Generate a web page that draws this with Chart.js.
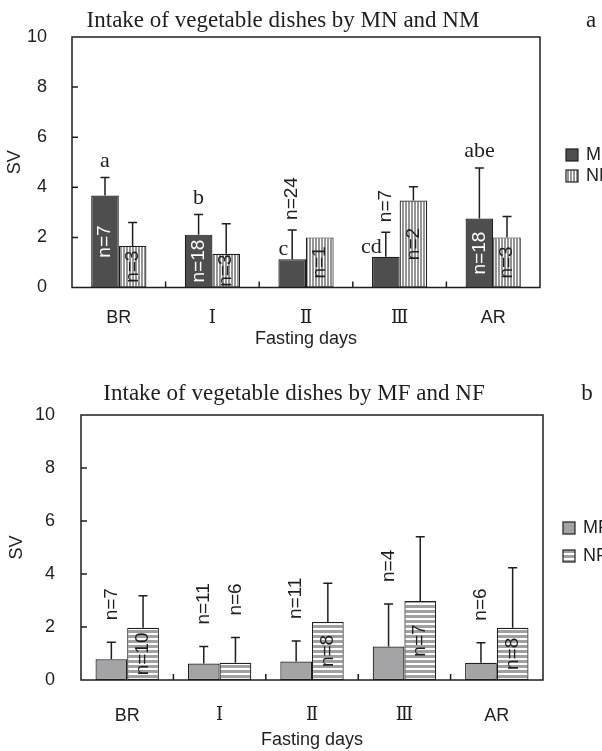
<!DOCTYPE html>
<html>
<head>
<meta charset="utf-8">
<script src="https://cdn.jsdelivr.net/npm/chart.js@4.4.1/dist/chart.umd.min.js"></script>
<style>
  html, body { margin: 0; padding: 0; background: #fff; }
  #wrap { position: relative; width: 602px; height: 751px; overflow: hidden; }
  canvas { position: absolute; left: 0; }
  #chartA { top: 0; }
  #chartB { top: 375px; }
</style>
</head>
<body>
<div id="wrap">
  <canvas id="chartA" width="602" height="375"></canvas>
  <canvas id="chartB" width="602" height="376"></canvas>
</div>
<script>
const days = ["BR", "Ⅰ", "Ⅱ", "Ⅲ", "AR"];
const yTicks = [0, 2, 4, 6, 8, 10];

// panel a : MN / NM
const mnMean = [3.67, 2.11, 1.13, 1.23, 2.75];
const mnSd   = [0.72, 0.80, 1.17, 0.98, 2.02];
const mnN    = [7, 18, 24, 7, 18];
const mnSig  = ["a", "b", "c", "cd", "abe"];
const nmMean = [1.66, 1.35, 2.00, 3.47, 2.00];
const nmSd   = [0.93, 1.19, 0, 0.55, 0.83];
const nmN    = [3, 3, 1, 2, 3];

// panel b : MF / NF
const mfMean = [0.78, 0.62, 0.70, 1.26, 0.65];
const mfSd   = [0.64, 0.64, 0.77, 1.61, 0.76];
const mfN    = [7, 11, 11, 4, 6];
const nfMean = [1.97, 0.65, 2.19, 2.98, 1.97];
const nfSd   = [1.21, 0.95, 1.46, 2.43, 2.27];
const nfN    = [10, 6, 8, 7, 8];

const INK = "#1e1e1e";
const SANS = '"Liberation Sans", "Noto Sans CJK JP", Arial, sans-serif';
const ROMAN = '"DejaVu Serif", "Noto Sans CJK JP", serif';
const SERIF = '"Liberation Serif", "DejaVu Serif", serif';

function stripes(ctx, vertical, period, band, color) {
    const c = document.createElement("canvas");
    c.width = vertical ? period : 8;
    c.height = vertical ? 8 : period;
    const g = c.getContext("2d");
    g.fillStyle = "#fff";
    g.fillRect(0, 0, c.width, c.height);
    g.fillStyle = color;
    if (vertical) g.fillRect(0, 0, band, c.height);
    else g.fillRect(0, 0, c.width, band);
    return ctx.createPattern(c, "repeat");
}

// error bars, n= labels, letters, frame, ticks, title, legend
const panelDecor = {
    id: "panelDecor",
    afterDatasetsDraw(chart, args, opt) {
        const ctx = chart.ctx;
        const ys = chart.scales.y;
        ctx.save();
        chart.data.datasets.forEach((ds, di) => {
            const meta = chart.getDatasetMeta(di);
            meta.data.forEach((bar, i) => {
                const hasErr = ds.sd[i] > 0;
                const errTop = ys.getPixelForValue(ds.data[i] + ds.sd[i]);
                if (hasErr) {
                    ctx.strokeStyle = INK;
                    ctx.lineWidth = 1.5;
                    ctx.beginPath();
                    ctx.moveTo(bar.x, bar.y);
                    ctx.lineTo(bar.x, errTop);
                    ctx.moveTo(bar.x - 4.5, errTop);
                    ctx.lineTo(bar.x + 4.5, errTop);
                    ctx.stroke();
                }

                const txt = "n=" + ds.n[i];
                ctx.font = opt.nFont;
                const w = ctx.measureText(txt).width;
                const inside = (bar.base - bar.y) >= opt.minInside;
                let cy;
                ctx.save();
                if (inside) {
                    cy = (bar.y + bar.base) / 2;
                    ctx.fillStyle = ds.nColor;
                } else {
                    cy = (hasErr ? errTop : bar.y) - opt.gapAbove - w / 2;
                    ctx.fillStyle = INK;
                }
                ctx.translate(bar.x, cy);
                ctx.rotate(-Math.PI / 2);
                ctx.textAlign = "center";
                ctx.textBaseline = "middle";
                ctx.fillText(txt, 0, 0);
                ctx.restore();

                if (ds.sig && ds.sig[i]) {
                    ctx.font = opt.sigFont;
                    ctx.fillStyle = INK;
                    ctx.textBaseline = "alphabetic";
                    if (inside) {
                        ctx.textAlign = "center";
                        ctx.fillText(ds.sig[i], bar.x, errTop - 11);
                    } else {
                        ctx.textAlign = "right";
                        ctx.fillText(ds.sig[i], bar.x - 4, bar.y - 4);
                    }
                }
            });
        });
        ctx.restore();
    },
    afterDraw(chart, args, opt) {
        const ctx = chart.ctx;
        const a = chart.chartArea;
        const xs = chart.scales.x, ys = chart.scales.y;
        ctx.save();
        ctx.strokeStyle = INK;
        ctx.lineWidth = 1.5;
        ctx.strokeRect(a.left, a.top, a.right - a.left, a.bottom - a.top);

        // inward tick marks
        ctx.beginPath();
        yTicks.slice(1, -1).forEach(v => {
            const y = ys.getPixelForValue(v);
            ctx.moveTo(a.left, y);
            ctx.lineTo(a.left + 6, y);
        });
        for (let i = 1; i < days.length; i++) {
            const x = (xs.getPixelForValue(i - 1) + xs.getPixelForValue(i)) / 2;
            ctx.moveTo(x, a.bottom);
            ctx.lineTo(x, a.bottom - 6);
        }
        ctx.stroke();

        // title + panel letter
        ctx.fillStyle = INK;
        ctx.font = "23px " + SERIF;
        ctx.textAlign = "center";
        ctx.textBaseline = "middle";
        ctx.fillText(opt.title, opt.titleX, opt.titleY);
        ctx.fillText(opt.panel, opt.panelX, opt.titleY);

        // legend
        ctx.font = "18px " + SANS;
        ctx.textAlign = "left";
        chart.data.datasets.forEach((ds, i) => {
            const y = opt.legendY + i * opt.legendGap;
            ctx.fillStyle = ds.backgroundColor;
            ctx.fillRect(opt.legendX, y - 6, 12, 12);
            ctx.lineWidth = 1.2;
            ctx.strokeRect(opt.legendX, y - 6, 12, 12);
            ctx.fillStyle = INK;
            ctx.fillText(ds.label, opt.legendX + 20, y);
        });
        ctx.restore();
    }
};

function drawPanel(id, area, datasets, decor, xPad, xTitlePad, yTitlePad, barPct) {
    const canvas = document.getElementById(id);
    const font = { family: SANS, size: 18 };
    return new Chart(canvas.getContext("2d"), {
        type: "bar",
        data: { labels: days, datasets: datasets },
        options: {
            responsive: false,
            animation: false,
            layout: { padding: { top: area.top, right: canvas.width - area.right, left: 0, bottom: 0 } },
            datasets: { bar: { categoryPercentage: barPct, barPercentage: 1, borderWidth: 1.2, borderColor: INK, borderSkipped: false } },
            plugins: { legend: { display: false }, tooltip: { enabled: false }, panelDecor: decor },
            scales: {
                x: {
                    grid: { display: false, drawTicks: false },
                    border: { display: false },
                    ticks: {
                        // roman day numerals get a serif face
                        font: c => ({ family: /[\u2160-\u216f]/.test(days[c.index]) ? ROMAN : SANS, size: 18 }),
                        color: INK, padding: xPad, maxRotation: 0
                    },
                    title: { display: true, text: "Fasting days", font: font, color: INK, padding: { top: 0, bottom: xTitlePad } },
                    afterFit: s => { s.height = canvas.height - area.bottom; }
                },
                y: {
                    min: 0,
                    max: 10,
                    grid: { display: false, drawTicks: false },
                    border: { display: false },
                    afterBuildTicks: s => { s.ticks = yTicks.map(v => ({ value: v })); },
                    ticks: { font: font, color: INK, padding: area.left - area.labelRight },
                    title: { display: true, text: "SV", font: font, color: INK, padding: { top: yTitlePad, bottom: 0 } },
                    afterFit: s => { s.width = area.left; }
                }
            }
        },
        plugins: [panelDecor]
    });
}

const ctxA = document.getElementById("chartA").getContext("2d");
const ctxB = document.getElementById("chartB").getContext("2d");

drawPanel("chartA",
    { left: 72, right: 540, top: 37, bottom: 287.5, labelRight: 47 },
    [
        { label: "MN", data: mnMean, sd: mnSd, n: mnN, sig: mnSig, nColor: "#fff", backgroundColor: "#4e4e4e" },
        { label: "NM", data: nmMean, sd: nmSd, n: nmN, nColor: INK, backgroundColor: stripes(ctxA, true, 3, 2, "#959595") }
    ],
    {
        title: "Intake of vegetable dishes by MN and NM", titleX: 283, titleY: 21,
        panel: "a", panelX: 591,
        legendX: 566, legendY: 155, legendGap: 21,
        nFont: "19px " + SANS, sigFont: "22px " + SERIF,
        minInside: 33, gapAbove: 10
    },
    20, 25, 4, 0.59);

drawPanel("chartB",
    { left: 81, right: 543, top: 40, bottom: 305, labelRight: 55 },
    [
        { label: "MF", data: mfMean, sd: mfSd, n: mfN, nColor: INK, backgroundColor: "#a4a4a6" },
        { label: "NF", data: nfMean, sd: nfSd, n: nfN, nColor: INK, backgroundColor: stripes(ctxB, false, 5, 3, "#a0a0a0") }
    ],
    {
        title: "Intake of vegetable dishes by MF and NF", titleX: 294, titleY: 19,
        panel: "b", panelX: 587,
        legendX: 563, legendY: 153, legendGap: 28,
        nFont: "19px " + SANS, sigFont: "22px " + SERIF,
        minInside: 40, gapAbove: 22
    },
    25, 0, 6, 0.686);
</script>
</body>
</html>
